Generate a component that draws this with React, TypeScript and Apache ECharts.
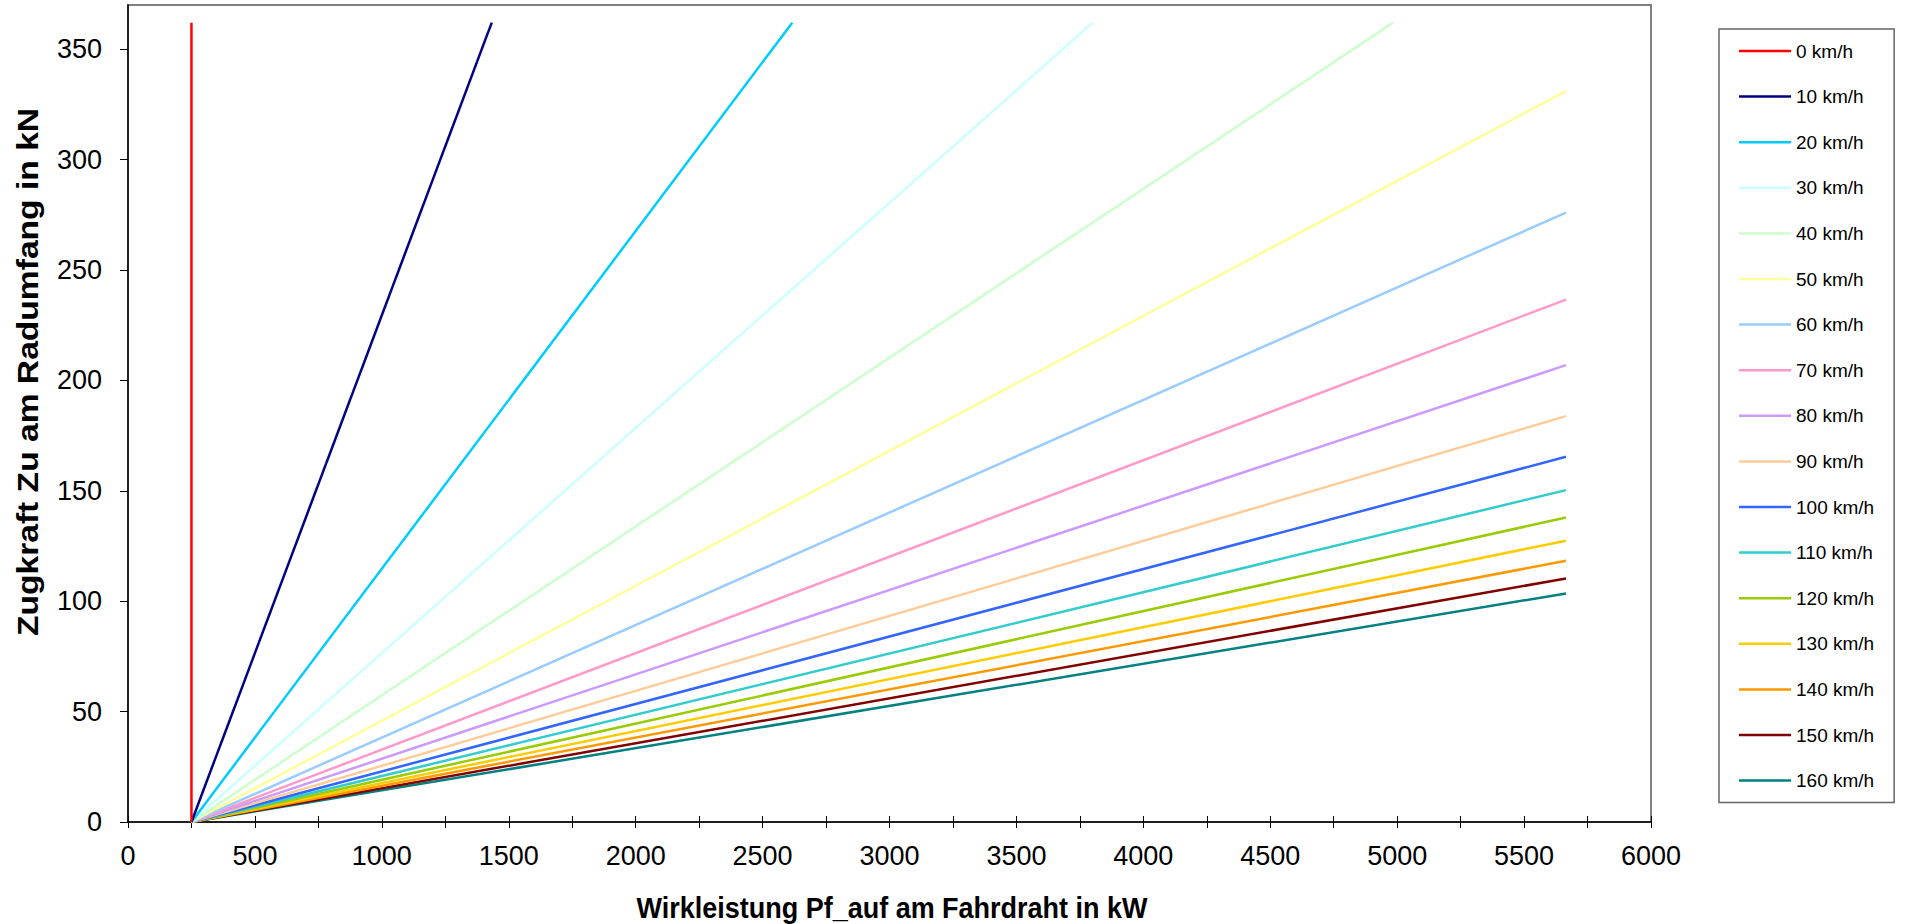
import React, { useEffect, useRef } from "react";
import * as echarts from "echarts";

const speeds = ["0 km/h", "10 km/h", "20 km/h", "30 km/h", "40 km/h", "50 km/h", "60 km/h", "70 km/h", "80 km/h", "90 km/h", "100 km/h", "110 km/h", "120 km/h", "130 km/h", "140 km/h", "150 km/h", "160 km/h"];
const startPower = 250;
const startForce = 0;
const endPower = [250, 1433, 2617, 3800, 4984, 5665, 5665, 5665, 5665, 5665, 5665, 5665, 5665, 5665, 5665, 5665, 5665];
const endForce = [362, 362, 362, 362, 362, 331, 276, 236.6, 206.9, 183.8, 165.4, 150.3, 137.9, 127.4, 118.3, 110.3, 103.5];
const colors = ["#FF0000", "#000080", "#00CCFF", "#CCFFFF", "#CCFFCC", "#FFFF99", "#99CCFF", "#FF99CC", "#CC99FF", "#FFCC99", "#3366FF", "#33CCCC", "#99CC00", "#FFCC00", "#FF9900", "#800000", "#008080"];
const yTicks = [0, 50, 100, 150, 200, 250, 300, 350];
const xTitle = "Wirkleistung Pf_auf am Fahrdraht in kW";
const yTitle = "Zugkraft Zu am Radumfang in kN";

const FONT = "'Liberation Sans', Arial, sans-serif";

export default function App() {
  const ref = useRef<HTMLDivElement>(null);
  useEffect(() => {
    if (!ref.current) return;
    const chart = echarts.init(ref.current, undefined, { renderer: "svg" });
    const series = speeds.map((name, i) => ({
      name,
      type: "line",
      symbol: "none",
      showSymbol: false,
      data: [
        [startPower, startForce],
        [endPower[i], endForce[i]],
      ],
      lineStyle: { color: colors[i], width: 2.5 },
      itemStyle: { color: colors[i] },
      z: 3 + (speeds.length - i) * 0.01,
    }));
    chart.setOption({
      animation: false,
      backgroundColor: "#fff",
      textStyle: { fontFamily: FONT },
      grid: {
        left: 128,
        top: 5,
        right: 259,
        height: 817,
        show: true,
        borderColor: "#808080",
        borderWidth: 2,
        backgroundColor: "#fff",
      },
      legend: {
        orient: "vertical",
        left: 1719,
        top: 29,
        padding: [12, 20, 12, 20],
        icon: "rect",
        itemWidth: 52,
        itemHeight: 2.5,
        itemGap: 25.6,
        borderColor: "#666",
        borderWidth: 1.5,
        textStyle: { fontSize: 19, lineHeight: 20, color: "#000", fontFamily: FONT },
        data: speeds,
      },
      xAxis: [
        {
          type: "value",
          min: 0,
          max: 6000,
          interval: 250,
          splitLine: { show: false },
          axisLine: { lineStyle: { color: "#000", width: 1.5 } },
          axisTick: { show: true, inside: false, length: 6, lineStyle: { color: "#000", width: 1 } },
          axisLabel: {
            margin: 20,
            fontSize: 27,
            color: "#000",
            fontFamily: FONT,
            formatter: (v: number) => (v % 500 === 0 ? String(v) : ""),
          },
        },
        {
          type: "value",
          position: "bottom",
          min: 0,
          max: 6000,
          interval: 250,
          splitLine: { show: false },
          axisLine: { show: false },
          axisTick: { show: true, inside: true, length: 6, lineStyle: { color: "#000", width: 1 } },
          axisLabel: { show: false },
        },
      ],
      yAxis: {
        type: "value",
        min: 0,
        max: 370,
        interval: 50,
        splitLine: { show: false },
        axisLine: { show: true, lineStyle: { color: "#000", width: 1.5 } },
        axisTick: { show: true, length: 8, lineStyle: { color: "#000", width: 1 }, customValues: yTicks },
        axisLabel: { margin: 26, fontSize: 27, color: "#000", fontFamily: FONT, customValues: yTicks },
      },
      graphic: [
        {
          type: "text",
          x: 892,
          y: 907,
          scaleX: 0.9,
          style: {
            text: xTitle,
            font: `bold 30px ${FONT}`,
            fill: "#000",
            align: "center",
            verticalAlign: "middle",
          },
        },
        {
          type: "text",
          x: 28,
          y: 372,
          rotation: Math.PI / 2,
          scaleX: 1.12,
          style: {
            text: yTitle,
            font: `bold 30px ${FONT}`,
            fill: "#000",
            align: "center",
            verticalAlign: "middle",
          },
        },
      ],
      series,
    });
    return () => chart.dispose();
  }, []);
  return <div ref={ref} style={{ position: "fixed", left: 0, top: 0, width: 1910, height: 924 }} />;
}
